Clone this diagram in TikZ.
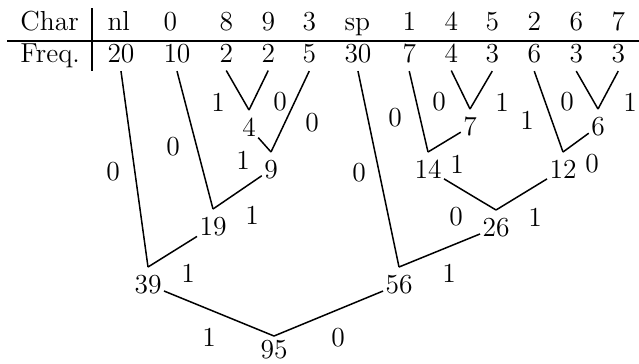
\documentclass[tikz,border=0pt]{standalone}
\begin{document}
\begin{tikzpicture}[x=0.4pt,y=-0.4pt,
  every node/.style={font=\fontsize{11}{13.6}\selectfont},
  tn/.style={inner xsep=0.8pt,inner ysep=3pt,anchor=north},
  cell/.style={anchor=base west,inner xsep=0pt,inner ysep=3.2pt},
  lab/.style={inner sep=0pt},
  edge/.style={line width=0.6pt},
  rule/.style={line width=0.6pt}]
\useasboundingbox (0,0) rectangle (639,363);
% table
\node[cell] (hc) at (20,30) {Char};
\node[cell] (hf) at (20,62) {Freq.};
\coordinate (hl) at (7,41); \coordinate (hr) at (639,41);
\coordinate (vt) at (92,8); \coordinate (vb) at (92,71);
\draw[rule] (hl) -- (hr);
\draw[rule] (vt) -- (vb);
\foreach \x/\c/\f/\n in {107/nl/20/a,163/0/10/b,219/8/2/c,261/9/2/d,302/3/5/e,344/sp/30/f,402/1/7/g,444/4/4/h,485/5/3/i,527/2/6/j,569/6/3/k,611/7/3/l}{
  \node[cell] (c\n) at (\x,30) {\c};
  \node[cell] (f\n) at (\x,62) {\f};
}
% tree nodes
\node[tn] (n4)  at (249,110) {4};
\node[tn] (n9)  at (271,152) {9};
\node[tn] (n19) at (213,209) {19};
\node[tn] (n39) at (148,267) {39};
\node[tn,inner ysep=0pt] (n95) at (274,340) {95};
\coordinate (v95) at (274,336);
\node[tn] (n56) at (399,267) {56};
\node[tn] (n26) at (496,210) {26};
\node[tn] (n14) at (428,152) {14};
\node[tn] (n12) at (563,152) {12};
\node[tn] (n7)  at (470,109) {7};
\node[tn] (n6)  at (598,109) {6};
% edges
\draw[edge] (n4.north) -- (fc.south);
\draw[edge] (n4.north) -- (fd.south);
\draw[edge] (n9.north) -- (n4);
\draw[edge] (n9.north) -- (fe.south);
\draw[edge] (n19.north) -- (fb.south);
\draw[edge] (n19.north) -- (n9);
\draw[edge] (n39.north) -- (fa.south);
\draw[edge] (n39.north) -- (n19);
\draw[edge] (v95) -- (n39);
\draw[edge] (v95) -- (n56);
\draw[edge] (n56.north) -- (ff.south);
\draw[edge] (n56.north) -- (n26);
\draw[edge] (n26.north) -- (n14);
\draw[edge] (n26.north) -- (n12);
\draw[edge] (n14.north) -- (fg.south);
\draw[edge] (n14.north) -- (n7);
\draw[edge] (n7.north) -- (fh.south);
\draw[edge] (n7.north) -- (fi.south);
\draw[edge] (n12.north) -- (fj.south);
\draw[edge] (n12.north) -- (n6);
\draw[edge] (n6.north) -- (fk.south);
\draw[edge] (n6.north) -- (fl.south);
% edge labels
\foreach \x/\y/\t [count=\i] in {218/102/1,280/102/0,312/123/0,243/160/1,173/147/0,113/172/0,252/215/1,188/273/1,209/337/1,338/338/0,449/273/1,359/173/0,456/217/0,535/217/1,457/164/1,592/164/0,395/118/0,439/102/0,502/102/1,527/120/1,567/102/0,630/102/1}{
  \node[lab] (l\i) at (\x,\y) {\t};
}
\end{tikzpicture}
\end{document}
